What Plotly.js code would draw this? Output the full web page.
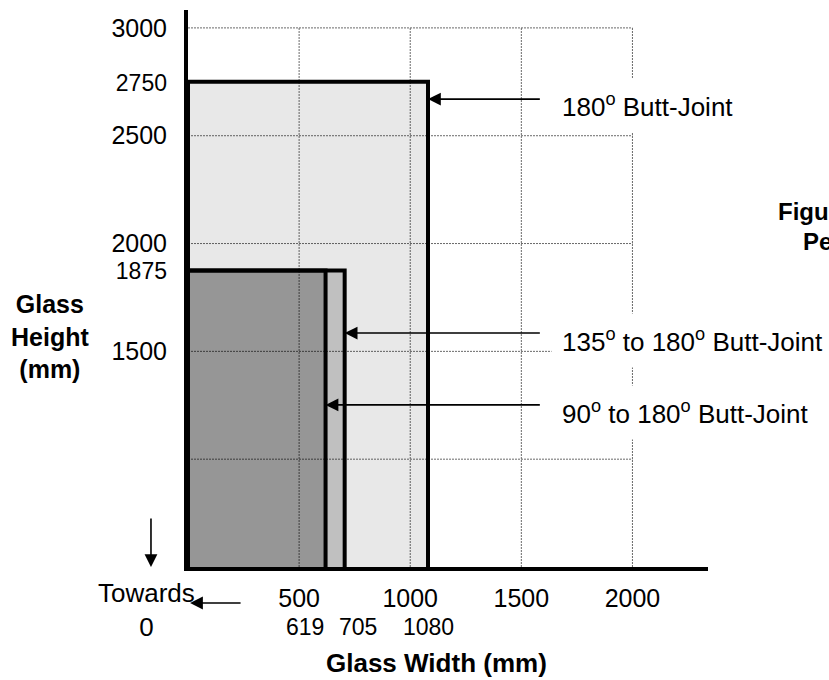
<!DOCTYPE html>
<html>
<head>
<meta charset="utf-8">
<script src="https://cdn.plot.ly/plotly-3.0.1.min.js"></script>
<style>html,body{margin:0;padding:0;background:#fff;}#chart{width:829px;height:680px;}</style>
</head>
<body>
<div id="chart"></div>
<script>
// ---- data ----
const jointNames   = ['180<sup>o</sup> Butt-Joint', '135<sup>o</sup> to 180<sup>o</sup> Butt-Joint', '90<sup>o</sup> to 180<sup>o</sup> Butt-Joint'];
const jointWidths  = [1080, 705, 619];     // mm
const jointHeights = [2750, 1875, 1875];   // mm
const xTicks       = [500, 1000, 1500, 2000];
const xMarkTicks   = [619, 705, 1080];
const yTicks       = [1500, 1875, 2000, 2500, 2750, 3000];
const yMinorTicks  = [1875, 2750];
const yGrid        = [1000, 1500, 2000, 2500, 3000];
const xGrid        = [500, 1000, 1500, 2000];

// ---- style ----
const FONT = 'Arial, "Liberation Sans", Helvetica, sans-serif';
const fills = ['rgba(0,0,0,0.09)', 'rgba(0,0,0,0.172)', 'rgba(0,0,0,0.219)'];
const xRange = [0, 2340];
const yRange = [500, 3083];

const traces = jointWidths.map((w, i) => ({
  type: 'scatter', mode: 'lines',
  x: [0, w, w, 0, 0],
  y: [0, 0, jointHeights[i], jointHeights[i], 0],
  fill: 'toself', fillcolor: fills[i],
  line: {color: '#000', width: 4},
  hoverinfo: 'skip', showlegend: false, name: jointNames[i]
}));

const gridStyle = {color: '#6a6a6a', width: 1, dash: '2px,1px'};
const shapes = [];
yGrid.forEach(v => shapes.push({type: 'line', xref: 'x', yref: 'y', x0: xRange[0], x1: xGrid[xGrid.length - 1], y0: v, y1: v, line: gridStyle, layer: 'below'}));
xGrid.forEach(v => shapes.push({type: 'line', xref: 'x', yref: 'y', x0: v, x1: v, y0: yRange[0], y1: yGrid[yGrid.length - 1], line: gridStyle, layer: 'below'}));

// annotation layout (paper positions)
const arrowY = [0.840, 0.420, 0.291];
const labelY = [0.828, 0.4075, 0.278];
const annotations = [];
jointWidths.forEach((w, i) => {
  annotations.push({xref: 'x', yref: 'paper', x: w, y: arrowY[i], axref: 'x', ax: 1590, ayref: 'pixel', ay: 0,
    text: '', showarrow: true, arrowhead: 2, arrowsize: 1.6, arrowwidth: 1.6, arrowcolor: '#000'});
  annotations.push({xref: 'paper', yref: 'paper', x: 0.698, y: labelY[i], xanchor: 'left', yanchor: 'middle',
    text: jointNames[i], showarrow: false, bgcolor: '#fff', borderpad: 10,
    font: {family: FONT, size: 26, color: '#000'}});
});
xMarkTicks.forEach((v, i) => {
  annotations.push({xref: 'x', yref: 'paper', x: v, y: -0.108, yanchor: 'middle',
    xanchor: i === 0 ? 'right' : (i === 1 ? 'left' : 'center'), xshift: i === 1 ? -8 : 0,
    text: String(v), showarrow: false, font: {family: FONT, size: 23, color: '#000'}});
});
// axis titles
annotations.push({xref: 'paper', yref: 'paper', x: 0.477, y: -0.173, xanchor: 'center', yanchor: 'middle',
  text: '<b>Glass Width (mm)</b>', showarrow: false, font: {family: FONT, size: 26, color: '#000'}});
annotations.push({xref: 'paper', yref: 'paper', x: -0.265, y: 0.413, xanchor: 'center', yanchor: 'middle',
  text: '<b>Glass<br>Height<br>(mm)</b>', showarrow: false, align: 'center', font: {family: FONT, size: 25, color: '#000'}});
// "Towards 0"
annotations.push({xref: 'paper', yref: 'paper', x: -0.08, y: -0.077, xanchor: 'center', yanchor: 'middle',
  text: 'Towards<br>0', showarrow: false, align: 'center', font: {family: FONT, size: 26, color: '#000'}});
annotations.push({xref: 'paper', yref: 'paper', x: -0.0712, y: 0.0, axref: 'pixel', ayref: 'pixel', ax: 0, ay: -50,
  text: '', showarrow: true, arrowhead: 2, arrowsize: 1.6, arrowwidth: 1.6, arrowcolor: '#000'});
annotations.push({xref: 'paper', yref: 'paper', x: 0.004, y: -0.0646, axref: 'pixel', ayref: 'pixel', ax: 52, ay: 0,
  text: '', showarrow: true, arrowhead: 2, arrowsize: 1.6, arrowwidth: 1.6, arrowcolor: '#000'});
// clipped figure caption at right edge (clipped in the reference as well)
const capLines = ['Figure 5.2', 'Permissible', 'Butt-Joint Sizes'];
const capX = [776, 801, 828];
const capY = [212, 242, 271];
capLines.forEach((t, i) => {
  annotations.push({xref: 'paper', yref: 'paper', x: (capX[i] - 188) / 520, y: (567 - capY[i]) / 557,
    xanchor: 'left', yanchor: 'middle', text: '<b>' + t + '</b>', showarrow: false,
    font: {family: FONT, size: 24, color: '#000'}});
});

const yTickText = yTicks.map(v => yMinorTicks.includes(v) ? '<span style="font-size:23px">' + v + '</span>' : String(v));

const layout = {
  width: 829, height: 680,
  margin: {l: 188, r: 121, t: 10, b: 113, pad: 0},
  paper_bgcolor: '#fff', plot_bgcolor: 'rgba(0,0,0,0)',
  showlegend: false,
  font: {family: FONT, color: '#000'},
  xaxis: {range: xRange, showgrid: false, zeroline: false, showline: true, linewidth: 4, linecolor: '#000',
    tickmode: 'array', tickvals: xTicks, ticktext: xTicks.map(String),
    ticks: 'outside', ticklen: 6, tickcolor: 'rgba(0,0,0,0)', tickfont: {family: FONT, size: 25, color: '#000'}},
  yaxis: {range: yRange, showgrid: false, zeroline: false, showline: true, linewidth: 4, linecolor: '#000',
    tickmode: 'array', tickvals: yTicks, ticktext: yTickText,
    ticks: 'outside', ticklen: 12, tickcolor: 'rgba(0,0,0,0)', tickfont: {family: FONT, size: 25, color: '#000'}},
  shapes: shapes,
  annotations: annotations
};

Plotly.newPlot('chart', traces, layout, {displayModeBar: false, staticPlot: true});
</script>
</body>
</html>
